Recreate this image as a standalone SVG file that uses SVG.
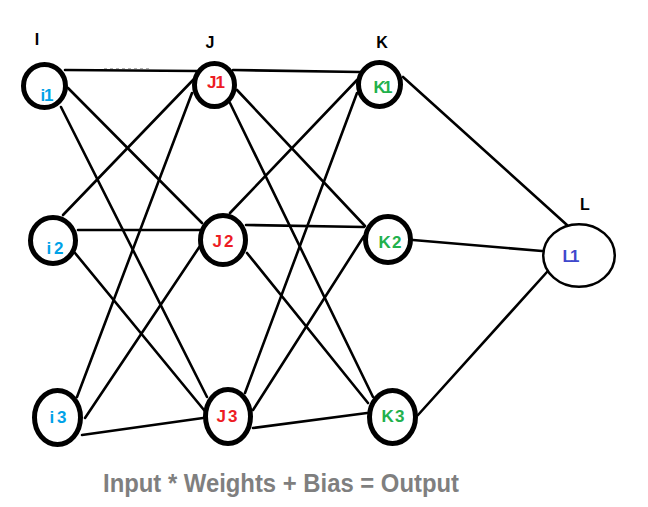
<svg xmlns="http://www.w3.org/2000/svg" width="648" height="507" viewBox="0 0 648 507">
<style>
.n{fill:#fff;stroke:#000;stroke-width:5}
.o{fill:#fff;stroke:#000;stroke-width:2.5}
.e line{stroke:#000;stroke-width:2.6;stroke-linecap:round}
.h{font-family:"Liberation Sans",Arial,sans-serif;font-weight:bold;font-size:16px;fill:#000;text-anchor:middle}
.t{font-family:"Liberation Sans",Arial,sans-serif;font-weight:bold;font-size:17px;text-anchor:middle}
.ti{fill:#00a2e8}.tj{fill:#ed1c24}.tk{fill:#22b14c}.tl{fill:#3f48cc}
.cap{font-family:"Liberation Sans",Arial,sans-serif;font-weight:bold;font-size:25px;fill:#7f7f7f}
</style>
<rect width="648" height="507" fill="#fff"/>
<g id="connectors" class="e">
<line x1="65" y1="70" x2="197" y2="71"/>
<line x1="68" y1="88" x2="202" y2="223"/>
<line x1="61" y1="107" x2="207" y2="397"/>
<line x1="63" y1="215" x2="194" y2="79"/>
<line x1="78" y1="230" x2="200" y2="230"/>
<line x1="75" y1="253" x2="204" y2="410"/>
<line x1="77" y1="397" x2="192" y2="93"/>
<line x1="85" y1="418" x2="200" y2="246"/>
<line x1="82" y1="435" x2="203" y2="418"/>
<line x1="233" y1="70" x2="360" y2="72"/>
<line x1="237" y1="90" x2="365" y2="226"/>
<line x1="230" y1="103" x2="373" y2="397"/>
<line x1="230" y1="213" x2="357" y2="80"/>
<line x1="246" y1="225" x2="364" y2="227"/>
<line x1="247" y1="253" x2="368" y2="403"/>
<line x1="245" y1="393" x2="357" y2="93"/>
<line x1="253" y1="410" x2="364" y2="236"/>
<line x1="253" y1="428" x2="367" y2="413"/>
<line x1="403" y1="77" x2="567" y2="225"/>
<line x1="413" y1="240" x2="542" y2="251"/>
<line x1="418" y1="415" x2="547" y2="272"/>
</g>
<line x1="104" y1="68.5" x2="150" y2="68.5" stroke="#b0b0b0" stroke-width="1" stroke-dasharray="3,3"/>
<g id="headers">
<text class="h" x="37" y="45">I</text>
<text class="h" x="210" y="48">J</text>
<text class="h" x="382" y="48">K</text>
<text class="h" x="585" y="210">L</text>
</g>
<g id="i1"><ellipse class="n" cx="44.5" cy="86" rx="21" ry="21.5"/><text class="t ti" x="47" y="101" textLength="13" lengthAdjust="spacing">i1</text></g>
<g id="i2"><ellipse class="n" cx="53" cy="240.5" rx="22.5" ry="23"/><text class="t ti" x="55" y="254" textLength="17" lengthAdjust="spacing">i2</text></g>
<g id="i3"><ellipse class="n" cx="57.5" cy="417.5" rx="23" ry="27"/><text class="t ti" x="58" y="423" textLength="17" lengthAdjust="spacing">i3</text></g>
<g id="J1"><ellipse class="n" cx="214.5" cy="85" rx="20" ry="21.5"/><text class="t tj" x="216" y="88" textLength="18" lengthAdjust="spacing">J1</text></g>
<g id="J2"><ellipse class="n" cx="223" cy="240" rx="22.5" ry="24.5"/><text class="t tj" x="223" y="247" textLength="21" lengthAdjust="spacing">J2</text></g>
<g id="J3"><ellipse class="n" cx="228" cy="416.5" rx="22.5" ry="27"/><text class="t tj" x="227" y="422" textLength="21" lengthAdjust="spacing">J3</text></g>
<g id="K1"><ellipse class="n" cx="379.5" cy="84.5" rx="21" ry="22"/><text class="t tk" x="383" y="93" textLength="19" lengthAdjust="spacing">K1</text></g>
<g id="K2"><ellipse class="n" cx="388" cy="239.5" rx="22.5" ry="23"/><text class="t tk" x="390" y="248" textLength="23" lengthAdjust="spacing">K2</text></g>
<g id="K3"><ellipse class="n" cx="392.5" cy="417" rx="23" ry="26.5"/><text class="t tk" x="393" y="422" textLength="23" lengthAdjust="spacing">K3</text></g>
<g id="L1"><ellipse class="o" cx="579" cy="255.5" rx="35.8" ry="31.3"/><text class="t tl" x="571" y="262" textLength="17" lengthAdjust="spacing">L1</text></g>
<text class="cap" x="103" y="492" textLength="356" lengthAdjust="spacingAndGlyphs">Input * Weights + Bias = Output</text>
</svg>
